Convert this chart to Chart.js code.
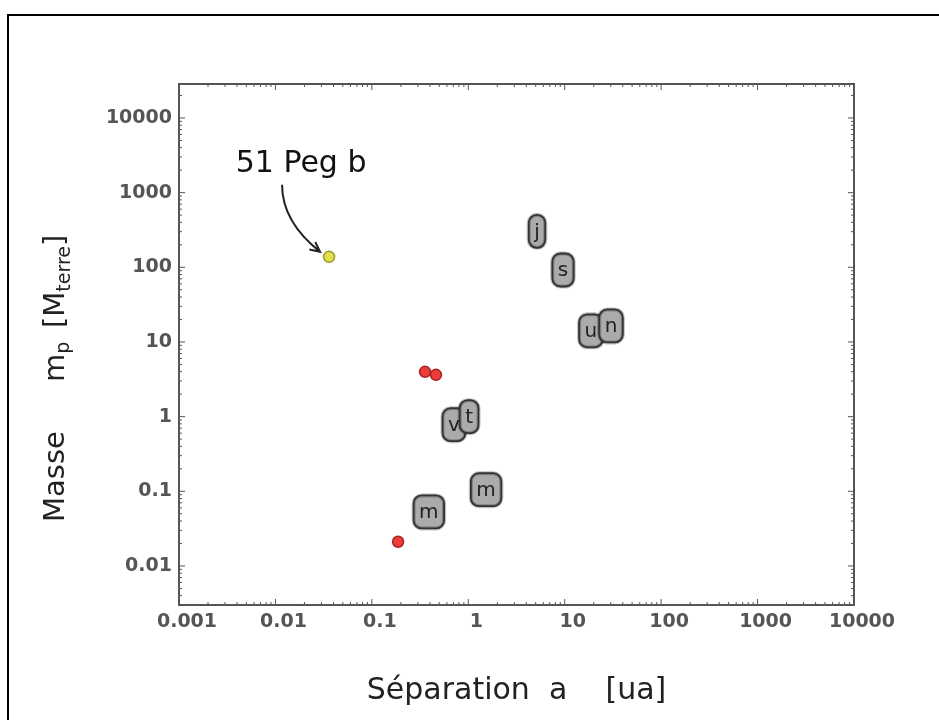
<!DOCTYPE html>
<html>
<head>
<meta charset="utf-8">
<script src="https://cdn.jsdelivr.net/npm/chart.js@4.4.0/dist/chart.umd.min.js"></script>
<style>
  html, body { margin: 0; padding: 0; background: #fff; }
  canvas { display: block; }
</style>
</head>
<body>
<canvas id="chart" width="939" height="720"></canvas>
<script>
// separation a [ua] on x, mass [M terre] on y, both log
const xTickValues = [0.001, 0.01, 0.1, 1, 10, 100, 1000, 10000];
const xTickLabels = ['0.001', '0.01', '0.1', '1', '10', '100', '1000', '10000'];
const yTickValues = [0.01, 0.1, 1, 10, 100, 1000, 10000];
const yTickLabels = ['0.01', '0.1', '1', '10', '100', '1000', '10000'];

const pegName = '51 Peg b';
const pegSep = [0.036];
const pegMass = [138];

const exoSep = [0.356, 0.462, 0.187];
const exoMass = [3.98, 3.63, 0.0211];

// solar system planets, drawn as letter boxes (later ones on top)
const planetLetters = ['m', 'v', 't', 'm', 'j', 's', 'u', 'n'];
const planetSep = [0.39, 0.71, 1.02, 1.53, 5.16, 9.6, 18.7, 30.2];
const planetMass = [0.053, 0.78, 1.0, 0.105, 303, 92, 14.1, 16.4];

const toPoints = (xs, ys) => xs.map((v, i) => ({ x: v, y: ys[i] }));

function drawBox(ctx, cx, cy, letter) {
    ctx.font = '20px "DejaVu Sans"';
    const w = ctx.measureText(letter).width + 11;
    const h = 33;
    ctx.beginPath();
    ctx.roundRect(cx - w / 2, cy - h / 2, w, h, 8);
    ctx.fillStyle = '#ababab';
    ctx.fill();
    ctx.strokeStyle = 'rgba(0,0,0,0.25)';
    ctx.lineWidth = 4;
    ctx.stroke();
    ctx.strokeStyle = '#333';
    ctx.lineWidth = 1.8;
    ctx.stroke();
    ctx.fillStyle = '#222';
    ctx.textAlign = 'center';
    ctx.textBaseline = 'middle';
    ctx.fillText(letter, cx, cy + 1);
}

function drawYTitle(ctx) {
    ctx.save();
    ctx.translate(64, 522);
    ctx.rotate(-Math.PI / 2);
    ctx.fillStyle = '#222';
    ctx.textAlign = 'left';
    ctx.textBaseline = 'alphabetic';
    const big = '29px "DejaVu Sans"';
    const small = '19px "DejaVu Sans"';
    ctx.font = big;
    ctx.fillText('Masse', 0, 0);
    let x = 140;
    ctx.fillText('m', x, 0);
    x += ctx.measureText('m').width;
    ctx.font = small;
    ctx.fillText('p', x, 5);
    x = 194;
    ctx.font = big;
    ctx.fillText('[M', x, 0);
    x += ctx.measureText('[M').width;
    ctx.font = small;
    ctx.fillText('terre', x, 6);
    x += ctx.measureText('terre').width;
    ctx.font = big;
    ctx.fillText(']', x, 0);
    ctx.restore();
}

function drawAxesBox(chart) {
    const { ctx, chartArea: a, scales: { x, y } } = chart;
    ctx.save();
    ctx.strokeStyle = '#555';
    ctx.lineWidth = 1;
    ctx.beginPath();
    // inward ticks on all four sides, major at decades, minor at 2..9
    for (let e = -3; e <= 4; e++) {
        for (let k = 1; k <= 9; k++) {
            const v = k * Math.pow(10, e);
            if (v < x.min || v > x.max) continue;
            const px = x.getPixelForValue(v);
            const len = k === 1 ? 6 : 3;
            ctx.moveTo(px, a.bottom); ctx.lineTo(px, a.bottom - len);
            ctx.moveTo(px, a.top); ctx.lineTo(px, a.top + len);
        }
    }
    for (let e = -3; e <= 4; e++) {
        for (let k = 1; k <= 9; k++) {
            const v = k * Math.pow(10, e);
            if (v < y.min || v > y.max) continue;
            const py = y.getPixelForValue(v);
            const len = k === 1 ? 6 : 3;
            ctx.moveTo(a.left, py); ctx.lineTo(a.left + len, py);
            ctx.moveTo(a.right, py); ctx.lineTo(a.right - len, py);
        }
    }
    ctx.stroke();
    ctx.lineWidth = 2;
    ctx.strokeRect(a.left, a.top, a.right - a.left, a.bottom - a.top);
    ctx.restore();
}

const decorations = {
    id: 'decorations',
    beforeDraw(chart) {
        // outer figure frame (top and left only)
        const ctx = chart.ctx;
        ctx.save();
        ctx.strokeStyle = '#000';
        ctx.lineWidth = 2;
        ctx.beginPath();
        ctx.moveTo(8, 720);
        ctx.lineTo(8, 15);
        ctx.lineTo(939, 15);
        ctx.stroke();
        ctx.restore();
    },
    afterDatasetsDraw(chart) {
        const ctx = chart.ctx;
        ctx.save();
        chart.getDatasetMeta(2).data.forEach((pt, i) => {
            drawBox(ctx, pt.x, pt.y, planetLetters[i]);
        });

        // 51 Peg b label with curved arrow
        const p = chart.getDatasetMeta(0).data[0];
        ctx.fillStyle = '#111';
        ctx.font = '30px "DejaVu Sans"';
        ctx.textAlign = 'center';
        ctx.textBaseline = 'alphabetic';
        ctx.fillText(pegName, p.x - 28, p.y - 85);

        const sx = p.x - 47, sy = p.y - 72;
        const cx = p.x - 47, cy = p.y - 35;
        const ex = p.x - 9, ey = p.y - 5;
        ctx.strokeStyle = '#222';
        ctx.lineWidth = 2;
        ctx.beginPath();
        ctx.moveTo(sx, sy);
        ctx.quadraticCurveTo(cx, cy, ex, ey);
        const ang = Math.atan2(ey - cy, ex - cx);
        ctx.moveTo(ex - 11 * Math.cos(ang - 0.45), ey - 11 * Math.sin(ang - 0.45));
        ctx.lineTo(ex, ey);
        ctx.lineTo(ex - 11 * Math.cos(ang + 0.45), ey - 11 * Math.sin(ang + 0.45));
        ctx.stroke();
        ctx.restore();
    },
    afterDraw(chart) {
        drawAxesBox(chart);
        drawYTitle(chart.ctx);
    }
};

const tickFont = { family: 'DejaVu Sans', size: 19, weight: 'bold' };

new Chart(document.getElementById('chart'), {
    type: 'scatter',
    data: {
        datasets: [
            {
                label: pegName,
                data: toPoints(pegSep, pegMass),
                pointRadius: 5.5,
                backgroundColor: '#e2e048',
                borderColor: '#9c9a2c',
                borderWidth: 1.5
            },
            {
                label: 'exoplanètes',
                data: toPoints(exoSep, exoMass),
                pointRadius: 5.5,
                backgroundColor: '#ee3b3b',
                borderColor: '#a82424',
                borderWidth: 1.5
            },
            {
                label: 'système solaire',
                data: toPoints(planetSep, planetMass),
                pointRadius: 0
            }
        ]
    },
    options: {
        responsive: false,
        animation: false,
        layout: { padding: { left: 0, top: 84, right: 85, bottom: 0 } },
        plugins: {
            legend: { display: false },
            tooltip: { enabled: false }
        },
        scales: {
            x: {
                type: 'logarithmic',
                min: 0.001,
                max: 10000,
                grid: { display: false, drawTicks: false },
                border: { display: false },
                afterBuildTicks: s => { s.ticks = xTickValues.map(v => ({ value: v })); },
                afterFit: s => { s.height = 115; },
                ticks: {
                    autoSkip: false,
                    maxRotation: 0,
                    padding: 6,
                    labelOffset: 8,
                    color: '#555',
                    font: tickFont,
                    callback: (v, i) => xTickLabels[i]
                },
                title: {
                    display: true,
                    text: 'Séparation  a    [ua]',
                    color: '#222',
                    font: { family: 'DejaVu Sans', size: 30 },
                    padding: { top: 0, bottom: 11 }
                }
            },
            y: {
                type: 'logarithmic',
                min: 0.003,
                max: 28500,
                grid: { display: false, drawTicks: false },
                border: { display: false },
                afterBuildTicks: s => { s.ticks = yTickValues.map(v => ({ value: v })); },
                afterFit: s => { s.width = 179; },
                ticks: {
                    autoSkip: false,
                    padding: 7,
                    color: '#555',
                    font: tickFont,
                    callback: (v, i) => yTickLabels[i]
                }
            }
        }
    },
    plugins: [decorations]
});
</script>
</body>
</html>
